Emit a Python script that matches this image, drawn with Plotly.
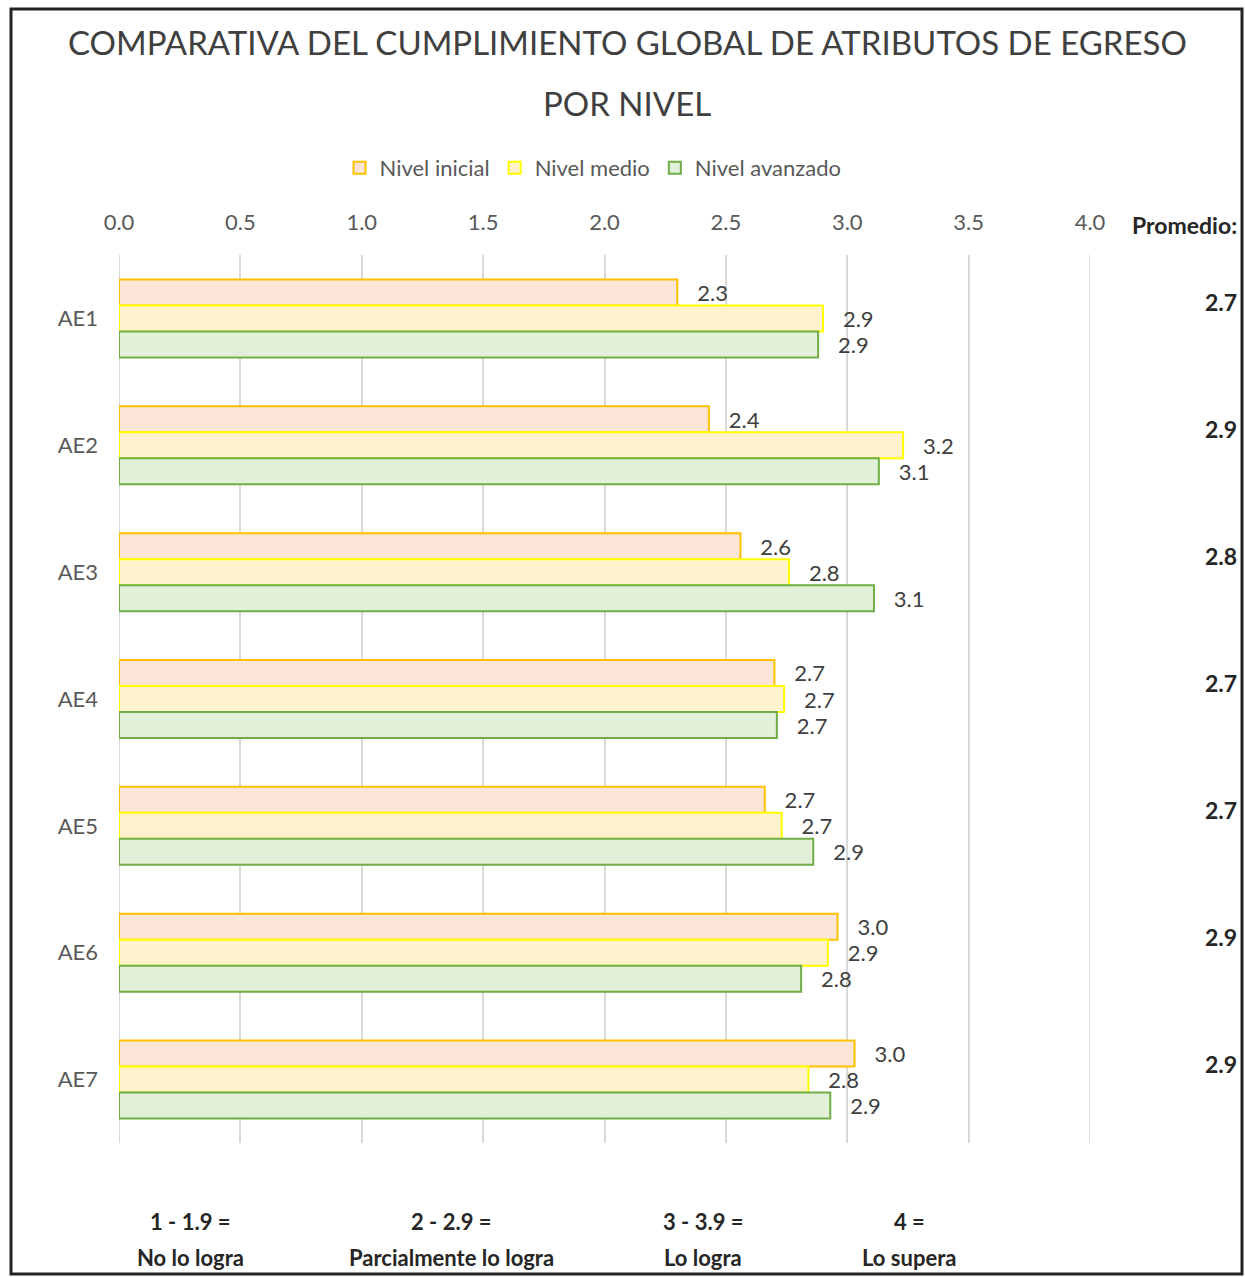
import plotly.graph_objects as go

categories = ["AE1", "AE2", "AE3", "AE4", "AE5", "AE6", "AE7"]
nivel_inicial = [2.30, 2.43, 2.56, 2.70, 2.66, 2.96, 3.03]
nivel_medio = [2.90, 3.23, 2.76, 2.74, 2.73, 2.92, 2.84]
nivel_avanzado = [2.88, 3.13, 3.11, 2.71, 2.86, 2.81, 2.93]
promedio = [2.7, 2.9, 2.8, 2.7, 2.7, 2.9, 2.9]
x_ticks = [0.0, 0.5, 1.0, 1.5, 2.0, 2.5, 3.0, 3.5, 4.0]
scale_top = ["1 - 1.9 =", "2 - 2.9 =", "3 - 3.9 =", "4 ="]
scale_bottom = ["No lo logra", "Parcialmente lo logra", "Lo logra", "Lo supera"]

W, H = 1245, 1277
L, R, T, B = 119, 1090, 255, 1143

def px(p):
    return (p - L) / (R - L)

def py(p):
    return (B - p) / (B - T)

FONT = "Lato"
series = [
    ("Nivel inicial", nivel_inicial, "#FBE5D6", "#FFC000"),
    ("Nivel medio", nivel_medio, "#FFF2CC", "#FFFF00"),
    ("Nivel avanzado", nivel_avanzado, "#E2F0D9", "#70AD47"),
]

fig = go.Figure()
for name, vals, fill, line in series:
    fig.add_trace(go.Bar(
        y=categories, x=vals, name=name, orientation="h",
        marker=dict(color=fill, line=dict(color=line, width=2)),
        texttemplate="\u00a0\u00a0\u00a0%{x:.1f}", textposition="outside",
        textfont=dict(family=FONT, size=22, color="#404040"),
        constraintext="none", cliponaxis=False,
    ))

annotations = [
    dict(text="COMPARATIVA DEL CUMPLIMIENTO GLOBAL DE ATRIBUTOS DE EGRESO",
         x=px(627), y=py(42), xref="paper", yref="paper", showarrow=False,
         font=dict(family=FONT, size=33, color="#404040"), xanchor="center", yanchor="middle"),
    dict(text="POR NIVEL",
         x=px(627), y=py(103), xref="paper", yref="paper", showarrow=False,
         font=dict(family=FONT, size=33, color="#404040"), xanchor="center", yanchor="middle"),
    dict(text="<b>Promedio:</b>", x=px(1239), y=py(225), xref="paper", yref="paper",
         showarrow=False, xanchor="right", yanchor="middle",
         font=dict(family=FONT, size=23, color="#262626")),
]
for cat, p in zip(categories, promedio):
    annotations.append(dict(text=f"<b>{p:.1f}</b>", x=px(1239), y=cat, xref="paper", yref="y",
                            showarrow=False, xanchor="right", yanchor="middle", yshift=16,
                            font=dict(family=FONT, size=23, color="#262626")))
for xc, t1, t2 in zip([190, 451, 703, 909], scale_top, scale_bottom):
    annotations.append(dict(text=f"<b>{t1}</b>", x=px(xc), y=py(1221), xref="paper", yref="paper",
                            showarrow=False, xanchor="center", yanchor="middle",
                            font=dict(family=FONT, size=22, color="#262626")))
    annotations.append(dict(text=f"<b>{t2}</b>", x=px(xc), y=py(1257), xref="paper", yref="paper",
                            showarrow=False, xanchor="center", yanchor="middle",
                            font=dict(family=FONT, size=22, color="#262626")))

fig.update_layout(
    width=W, height=H,
    margin=dict(l=L, r=W - R, t=T, b=H - B, pad=0),
    paper_bgcolor="white", plot_bgcolor="white",
    barmode="group", bargap=0.385, bargroupgap=0,
    font=dict(family=FONT, size=22, color="#595959"),
    showlegend=True,
    legend=dict(orientation="h", x=px(593), y=py(168), xanchor="center", yanchor="middle",
                font=dict(family=FONT, size=22, color="#595959"), itemwidth=30,
                tracegroupgap=0, bgcolor="rgba(0,0,0,0)"),
    xaxis=dict(side="top", range=[0, 4], tickvals=x_ticks, ticktext=[f"{v:.1f}" for v in x_ticks],
               showgrid=True, gridcolor="#D9D9D9", gridwidth=2, zeroline=False, showline=False,
               ticks="", ticklabelstandoff=20, tickfont=dict(family=FONT, size=22, color="#595959")),
    yaxis=dict(autorange="reversed", showgrid=False, zeroline=False, showline=False, ticks="",
               ticklabelstandoff=20, tickfont=dict(family=FONT, size=22, color="#595959")),
    annotations=annotations,
    shapes=[dict(type="rect", xref="paper", yref="paper", x0=px(11), x1=px(1242), y0=py(1274), y1=py(9),
                 line=dict(color="#222222", width=3), fillcolor="rgba(0,0,0,0)", layer="below")]
           + [dict(type="line", xref="x", yref="paper", x0=v, x1=v, y0=0, y1=1,
                   line=dict(color="#D9D9D9", width=2), layer="below") for v in (x_ticks[0], x_ticks[-1])],
)

fig.write_html("out.html", config={"displayModeBar": False},
               post_script="document.body.style.margin='0';document.body.style.overflow='hidden';")
